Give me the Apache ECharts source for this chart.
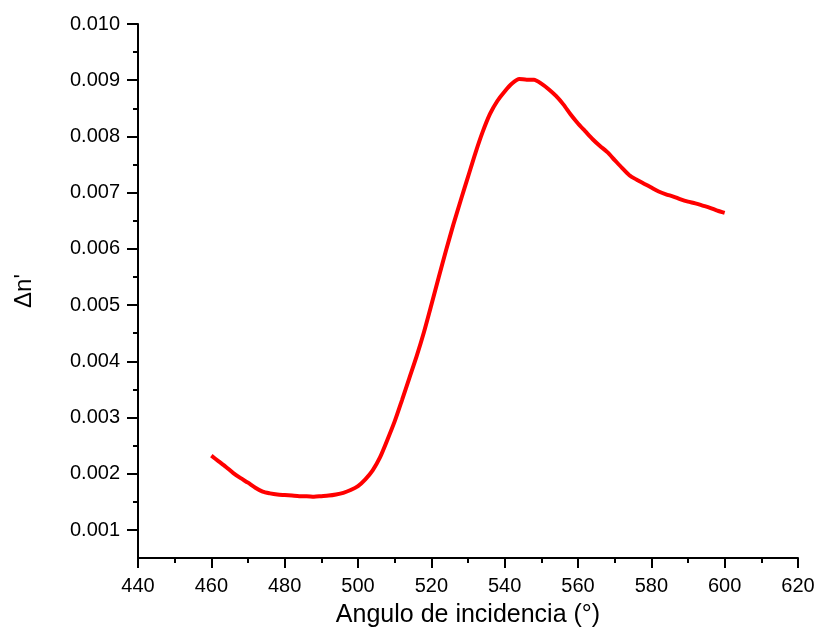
<!DOCTYPE html>
<html>
<head>
<meta charset="utf-8">
<script src="https://cdn.jsdelivr.net/npm/echarts@6/dist/echarts.min.js"></script>
<style>html,body{margin:0;padding:0;background:#fff}#c{width:818px;height:635px}</style>
</head>
<body>
<div id="c"></div>
<script>
var xValues = [460,462,464,466,468,470,472,474,476,478,480,482,484,486,488,490,492,494,496,498,500,502,504,506,508,510,512,514,516,518,520,522,524,526,528,530,532,534,536,538,540,542,544,546,548,550,552,554,556,558,560,562,564,566,568,570,572,574,576,578,580,582,584,586,588,590,592,594,596,598,600];
var yValues = [0.00232,0.00222,0.00212,0.00201,0.00192,0.00184,0.00175,0.00168,0.00165,0.00163,0.00162,0.00161,0.00160,0.00160,0.00159,0.00160,0.00161,0.00163,0.00166,0.00171,0.00178,0.00190,0.00206,0.00229,0.00260,0.00293,0.00331,0.00370,0.00409,0.00452,0.00500,0.00549,0.00597,0.00643,0.00686,0.00728,0.00770,0.00808,0.00840,0.00863,0.00880,0.00894,0.00902,0.00901,0.00901,0.00894,0.00884,0.00872,0.00857,0.00839,0.00823,0.00809,0.00795,0.00783,0.00772,0.00758,0.00744,0.00731,0.00723,0.00716,0.00709,0.00702,0.00697,0.00693,0.00688,0.00684,0.00681,0.00677,0.00673,0.00668,0.00664];
var xTitle = 'Angulo de incidencia (°)';
var yTitle = "Δn'";

var font = 'Liberation Sans, Arial, sans-serif';
var data = xValues.map(function (x, i) { return [x, yValues[i]]; });
var chart = echarts.init(document.getElementById('c'), null, {renderer: 'canvas'});
chart.setOption({
  animation: false,
  backgroundColor: '#fff',
  grid: [
    {left: 138, top: 24, width: 660, height: 534},
    {left: 138, top: 24, width: 660, height: 506}
  ],
  xAxis: [
    {
      gridIndex: 0, type: 'value', min: 440, max: 620, interval: 20,
      name: xTitle, nameLocation: 'middle', nameGap: 45,
      nameTextStyle: {fontFamily: font, fontSize: 25, color: '#000'},
      axisLine: {show: true, lineStyle: {color: '#000', width: 2}},
      axisTick: {show: true, length: 10, lineStyle: {color: '#000', width: 2}},
      minorTick: {show: true, splitNumber: 2, length: 5, lineStyle: {color: '#000', width: 2}},
      axisLabel: {fontFamily: font, fontSize: 20, color: '#000', margin: 18},
      splitLine: {show: false}
    },
    {
      gridIndex: 1, type: 'value', min: 440, max: 620, show: false
    }
  ],
  yAxis: [
    {
      gridIndex: 0, type: 'value', min: 0.0005, max: 0.010,
      name: yTitle, nameLocation: 'middle', nameGap: 102, nameRotate: 90,
      nameTextStyle: {fontFamily: font, fontSize: 24, color: '#000'},
      axisLine: {show: true, lineStyle: {color: '#000', width: 2}},
      axisTick: {show: false},
      axisLabel: {show: false},
      splitLine: {show: false}
    },
    {
      gridIndex: 1, type: 'value', min: 0.001, max: 0.010, interval: 0.001,
      axisLine: {show: false},
      axisTick: {show: true, length: 11, lineStyle: {color: '#000', width: 2}},
      minorTick: {show: true, splitNumber: 2, length: 5, lineStyle: {color: '#000', width: 2}},
      axisLabel: {fontFamily: font, fontSize: 20, color: '#000', margin: 18,
        formatter: function (v) { return v.toFixed(3); }},
      splitLine: {show: false}
    }
  ],
  series: [{
    type: 'line', xAxisIndex: 0, yAxisIndex: 0, data: data,
    showSymbol: false, symbol: 'none', smooth: 0.25,
    lineStyle: {color: '#ff0000', width: 4}
  }]
});
</script>
</body>
</html>
